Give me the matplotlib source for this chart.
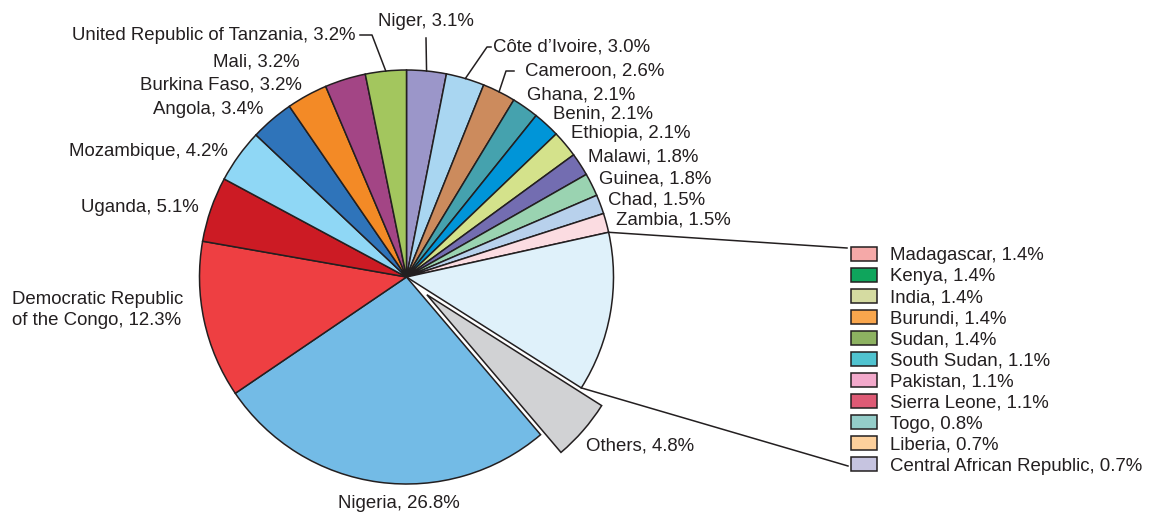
import numpy as np
import matplotlib.pyplot as plt
from matplotlib.patches import Patch

plt.rcParams["font.family"] = ["Liberation Sans", "DejaVu Sans"]

# slices, clockwise from 12 o'clock
slice_names = [
    "Niger", "Côte d\u2019Ivoire", "Cameroon", "Ghana", "Benin", "Ethiopia",
    "Malawi", "Guinea", "Chad", "Zambia", None, "Others", "Nigeria",
    "Democratic Republic\nof the Congo", "Uganda", "Mozambique", "Angola",
    "Burkina Faso", "Mali", "United Republic of Tanzania",
]
slice_values = [3.1, 3.0, 2.6, 2.1, 2.1, 2.1, 1.8, 1.8, 1.5, 1.5, None, 4.8,
                26.8, 12.3, 5.1, 4.2, 3.4, 3.2, 3.2, 3.2]
slice_colors = [
    "#9b96c9", "#a9d6f1", "#cc8b5d", "#45a2ae", "#0095d8", "#d4e28b",
    "#736db1", "#9ad3b1", "#b8d1ec", "#fbdce1", "#dff1fa", "#d1d2d4",
    "#73bbe6", "#ee3f42", "#cc1b24", "#8fd7f5", "#2f74ba", "#f38a26",
    "#a34585", "#a3c65e",
]

# breakdown of the pale blue slice
detail_names = ["Madagascar", "Kenya", "India", "Burundi", "Sudan", "South Sudan",
                "Pakistan", "Sierra Leone", "Togo", "Liberia",
                "Central African Republic"]
detail_values = [1.4, 1.4, 1.4, 1.4, 1.4, 1.1, 1.1, 1.1, 0.8, 0.7, 0.7]
detail_colors = ["#f5a9a8", "#0fa55c", "#d5dba1", "#f9a64d", "#8db261", "#50c3d0",
                 "#f3a9cb", "#de5a75", "#94cdc9", "#fdd09c", "#c6c4e0"]

group_idx = slice_values.index(None)
values = list(slice_values)
values[group_idx] = sum(detail_values)

# label anchor (x, y, ha) in pixels, same order as slices
label_pos = [
    (426, 22, "center"), (493, 47, "left"), (525, 71, "left"),
    (527, 95, "left"), (553, 114, "left"), (571, 134, "left"),
    (588, 157, "left"), (599, 179, "left"), (608, 200, "left"),
    (616, 220, "left"), None, (586, 446, "left"), (399, 503, "center"),
    (12, 310, "left"), (199, 208, "right"), (228, 151, "right"),
    (263, 110, "right"), (302, 85, "right"), (300, 62, "right"),
    (355, 35, "right"),
]
# leader lines: slice name -> points before the rim
leaders = {
    "Niger": [(426, 38)],
    "Côte d\u2019Ivoire": [(491, 47), (487, 47)],
    "Cameroon": [(514, 71), (506, 71)],
    "United Republic of Tanzania": [(360, 35), (372, 35)],
}

W, H = 1150, 514
cx, cy, R = 406.5, 277, 207
ink = "#231f20"
fs = 13.4

fig = plt.figure(figsize=(W / 100, H / 100), dpi=100)
ax = fig.add_axes([0, 0, 1, 1])

# explode is in data units here (radius is in pixels)
explode = [27 if n == "Others" else 0 for n in slice_names]
wedges, _ = ax.pie(values, colors=slice_colors, startangle=-90, counterclock=True,
                   radius=R, center=(cx, cy), explode=explode, frame=True,
                   wedgeprops=dict(edgecolor=ink, linewidth=1.1))
ax.set_xlim(0, W)
ax.set_ylim(H, 0)
ax.set_aspect("equal")
ax.axis("off")


def rim(theta):
    t = np.radians(theta)
    return cx + R * np.cos(t), cy + R * np.sin(t)


for name, val, pos, w in zip(slice_names, values, label_pos, wedges):
    if name is None:
        continue
    x, y, ha = pos
    ax.text(x, y, f"{name}, {val:.1f}%", ha=ha, va="center", fontsize=fs,
            color=ink, linespacing=1.35)
    if name in leaders:
        px, py = rim((w.theta1 + w.theta2) / 2)
        pts = leaders[name] + [(px, py)]
        ax.plot([p[0] for p in pts], [p[1] for p in pts], color=ink, lw=1.1)

# connectors from the pale blue slice to the breakdown list
g = wedges[group_idx]
for theta, end in [(g.theta1, (847, 248)), (g.theta2, (848, 466))]:
    px, py = rim(theta)
    ax.plot([px, end[0]], [py, end[1]], color=ink, lw=1.1)

handles = [Patch(facecolor=c, edgecolor=ink, linewidth=1.1) for c in detail_colors]
labels = [f"{n}, {v:.1f}%" for n, v in zip(detail_names, detail_values)]
ax.legend(handles, labels, loc="upper left", bbox_to_anchor=(851, 247),
          bbox_transform=ax.transData, frameon=False, fontsize=fs,
          handlelength=1.4, handleheight=0.75, handletextpad=0.7,
          labelspacing=0.2, borderpad=0, borderaxespad=0, labelcolor=ink)

fig.savefig("out.png", dpi=100)
plt.close(fig)
